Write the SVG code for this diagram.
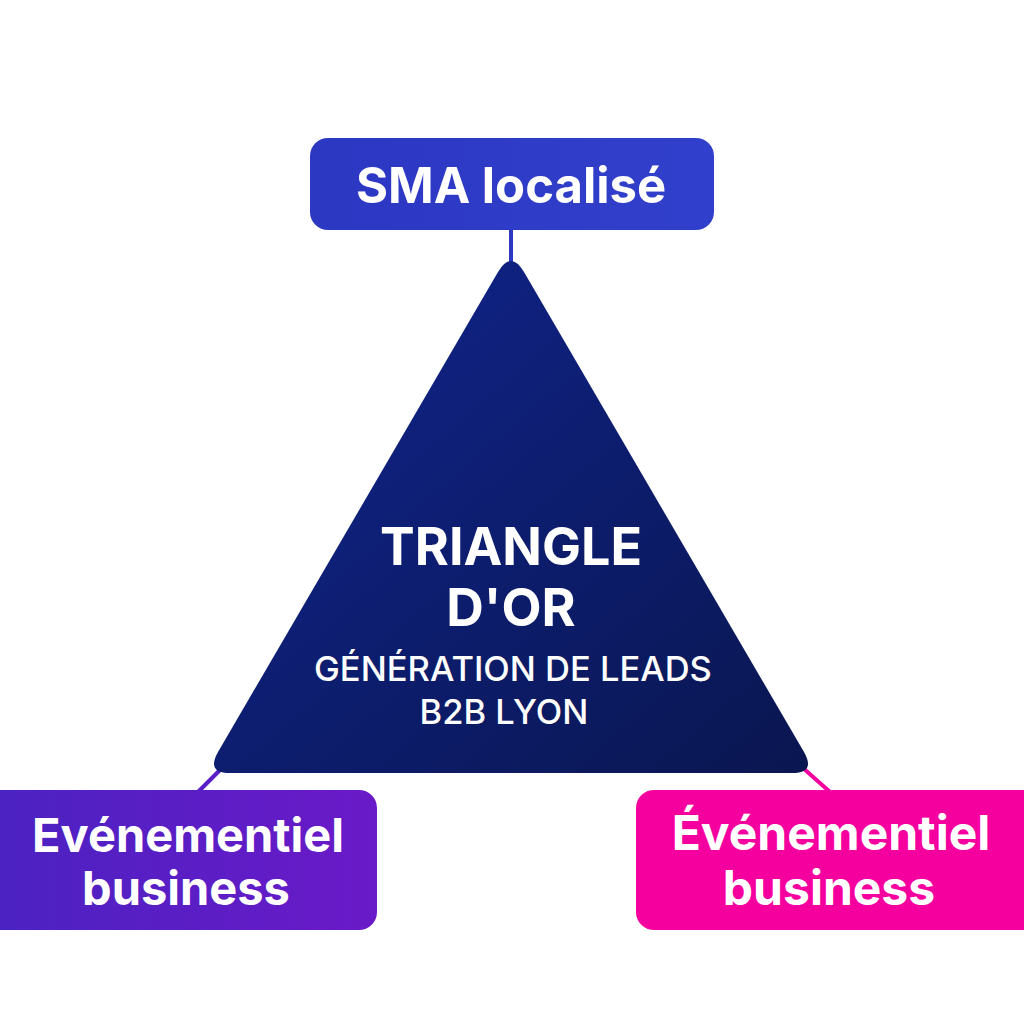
<svg xmlns="http://www.w3.org/2000/svg" width="1024" height="1024" viewBox="0 0 1024 1024">
  <defs>
    <linearGradient id="gTri" x1="0" y1="0" x2="1" y2="1">
      <stop offset="0" stop-color="#10258f"/>
      <stop offset="1" stop-color="#0a1650"/>
    </linearGradient>
    <linearGradient id="gTop" x1="0" y1="0" x2="1" y2="0">
      <stop offset="0" stop-color="#2c37c2"/>
      <stop offset="1" stop-color="#3140cc"/>
    </linearGradient>
    <linearGradient id="gLeft" x1="0" y1="0" x2="1" y2="0">
      <stop offset="0" stop-color="#4a22c2"/>
      <stop offset="1" stop-color="#6a1ac8"/>
    </linearGradient>
    <style>
      .t { font-family: Inter, "Liberation Sans", sans-serif; fill: #ffffff; text-anchor: middle; }
      .box { font-size: 47px; font-weight: 700; }
      .boxr { font-size: 48px; font-weight: 700; }
      .top { font-size: 49px; font-weight: 700; }
      .big { font-size: 52px; font-weight: 700; }
      .sub { font-size: 34.5px; font-weight: 500; }
      .conn { stroke-width: 4; fill: none; }
    </style>
  </defs>
  <rect width="1024" height="1024" fill="#ffffff"/>
  <g id="connectors">
    <line class="conn" x1="511" y1="228" x2="511" y2="262" stroke="#2c37c2"/>
    <line class="conn" x1="198" y1="792" x2="222" y2="768" stroke="#5a1ec6"/>
    <line class="conn" x1="803" y1="768" x2="830" y2="792" stroke="#f400a0"/>
  </g>
  <g id="triangle">
    <path d="M498,272 Q511,250 524,272 L804,752 Q816,773 792,773 L230,773 Q206,773 218,752 Z" fill="url(#gTri)"/>
    <text class="t big" x="511" y="565">TRIANGLE</text>
    <text class="t big" x="511" y="626">D'OR</text>
    <text class="t sub" x="513" y="681">GÉNÉRATION DE LEADS</text>
    <text class="t sub" x="504" y="724">B2B LYON</text>
  </g>
  <g id="node-top">
    <rect x="310" y="138" width="404" height="92" rx="18" fill="url(#gTop)"/>
    <text class="t top" x="511" y="203">SMA localisé</text>
  </g>
  <g id="node-left">
    <rect x="-20" y="790" width="397" height="140" rx="18" fill="url(#gLeft)"/>
    <text class="t box" x="188" y="852">Evénementiel</text>
    <text class="t box" x="186" y="905">business</text>
  </g>
  <g id="node-right">
    <rect x="636" y="790" width="408" height="140" rx="18" fill="#f5009f"/>
    <text class="t boxr" x="831" y="850">Événementiel</text>
    <text class="t boxr" x="829" y="905">business</text>
  </g>
</svg>
